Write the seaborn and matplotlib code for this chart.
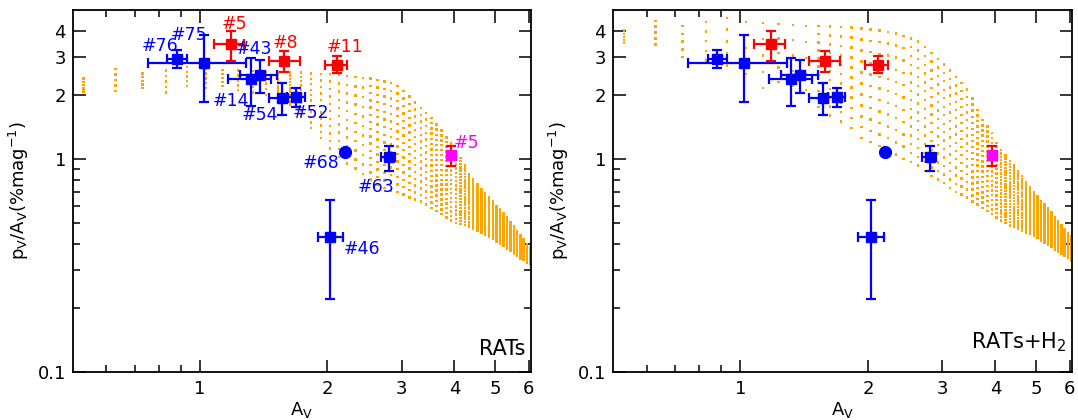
import numpy as np
import pandas as pd
import matplotlib
matplotlib.use("Agg")
import matplotlib.pyplot as plt
import seaborn as sns
from matplotlib.ticker import FixedLocator, FixedFormatter, NullFormatter

sns.set_theme(style="ticks")
plt.rcParams["font.family"] = ["DejaVu Sans"]
plt.rcParams["mathtext.fontset"] = "dejavusans"
plt.rcParams["text.color"] = "black"
plt.rcParams["axes.labelcolor"] = "black"
plt.rcParams["xtick.color"] = "black"
plt.rcParams["ytick.color"] = "black"

# ---------------------------------------------------------------------------
# Model grid: one column of predictions per A_V value, spanning lo..hi
# ---------------------------------------------------------------------------
GRID_AV = [0.53, 0.63, 0.73, 0.83, 0.93, 1.03, 1.13, 1.23, 1.33, 1.43,
           1.53, 1.63, 1.73, 1.83, 1.93, 2.03, 2.13, 2.23, 2.33, 2.43,
           2.53, 2.63, 2.73, 2.83, 2.93, 3.03, 3.13, 3.23, 3.33, 3.43,
           3.53, 3.63, 3.73, 3.83, 3.93, 4.03, 4.13, 4.23, 4.33, 4.43,
           4.53, 4.63, 4.73, 4.83, 4.93, 5.03, 5.13, 5.23, 5.33, 5.43,
           5.53, 5.63, 5.73, 5.83, 5.93, 6.03]

# RATs only
RATS_HI = [2.38, 2.65, 2.52, 2.60, 2.70, 2.65, 2.62, 2.60, 2.58, 2.56,
           2.55, 2.55, 2.54, 2.52, 2.50, 2.50, 2.47, 2.45, 2.42, 2.40,
           2.38, 2.35, 2.31, 2.27, 2.20, 2.08, 1.96, 1.84, 1.73, 1.64,
           1.56, 1.45, 1.36, 1.26, 1.18, 1.08, 1.01, 0.93, 0.85, 0.80,
           0.76, 0.72, 0.69, 0.66, 0.63, 0.60, 0.58, 0.555, 0.53, 0.505,
           0.485, 0.46, 0.44, 0.42, 0.40, 0.385]
RATS_LO = [2.07, 2.08, 2.15, 2.05, 2.20, 2.15, 2.20, 2.10, 2.05, 2.00,
           1.90, 1.80, 1.60, 1.40, 1.25, 1.12, 1.02, 0.95, 0.90, 0.85,
           0.80, 0.76, 0.73, 0.71, 0.70, 0.68, 0.66, 0.645, 0.63, 0.61,
           0.59, 0.57, 0.55, 0.53, 0.515, 0.50, 0.495, 0.49, 0.48, 0.47,
           0.46, 0.45, 0.44, 0.43, 0.42, 0.41, 0.40, 0.39, 0.38, 0.37,
           0.36, 0.35, 0.34, 0.335, 0.325, 0.32]

# RATs + H2 formation
H2_HI = [4.00, 4.45, 4.20, 4.40, 4.60, 4.40, 4.35, 4.30, 4.25, 4.20,
         4.20, 4.18, 4.16, 4.14, 4.10, 4.05, 4.00, 3.95, 3.88, 3.78,
         3.68, 3.56, 3.35, 3.15, 2.95, 2.78, 2.60, 2.42, 2.27, 2.12,
         1.92, 1.70, 1.52, 1.42, 1.32, 1.19, 1.10, 1.04, 0.98, 0.93,
         0.88, 0.83, 0.78, 0.735, 0.70, 0.665, 0.635, 0.61, 0.585, 0.56,
         0.535, 0.51, 0.49, 0.47, 0.45, 0.435]
H2_LO = [3.50, 3.45, 3.00, 2.90, 2.75, 2.50, 2.15, 2.30, 2.20, 2.10,
         1.75, 1.60, 1.50, 1.40, 1.25, 1.20, 1.15, 1.10, 1.05, 1.00,
         0.97, 0.93, 0.88, 0.83, 0.80, 0.77, 0.73, 0.70, 0.68, 0.66,
         0.63, 0.61, 0.59, 0.57, 0.55, 0.53, 0.515, 0.50, 0.488, 0.478,
         0.468, 0.458, 0.45, 0.445, 0.435, 0.425, 0.415, 0.405, 0.395, 0.385,
         0.375, 0.365, 0.357, 0.35, 0.342, 0.333]

# number of model points in each column
GRID_N = [5] * 10 + [11] * 10 + [15] * 10 + [18] * 6 + [22] * 20

# ---------------------------------------------------------------------------
# Observed stars
# ---------------------------------------------------------------------------
STAR = ["#76", "#75", "#5", "#43", "#14", "#54", "#52", "#8", "#11",
        "#68", "#63", "#5m", "#46"]
STAR_AV = [0.88, 1.02, 1.18, 1.385, 1.32, 1.565, 1.69, 1.58, 2.11,
           2.20, 2.80, 3.93, 2.03]
STAR_P = [2.95, 2.82, 3.45, 2.49, 2.37, 1.94, 1.96, 2.87, 2.77,
          1.08, 1.02, 1.04, 0.43]
STAR_AV_LO = [0.836, 0.751, 1.078, 1.245, 1.166, 1.452, 1.607, 1.452, 1.97,
              np.nan, 2.68, np.nan, 1.90]
STAR_AV_HI = [0.931, 1.285, 1.273, 1.524, 1.474, 1.612, 1.767, 1.72, 2.23,
              np.nan, 2.90, np.nan, 2.18]
STAR_P_LO = [2.67, 1.86, 2.87, 2.045, 1.77, 1.60, 1.76, 2.56, 2.52,
             np.nan, 0.882, 0.93, 0.22]
STAR_P_HI = [3.25, 3.82, 4.00, 2.92, 2.98, 2.28, 2.16, 3.21, 3.03,
             np.nan, 1.154, 1.15, 0.64]

BLUE, RED, MAGENTA, ORANGE = "#0000ff", "#ff0000", "#ff00ff", "#ffa500"
STAR_FACE = [BLUE, BLUE, RED, BLUE, BLUE, BLUE, BLUE, RED, RED,
             BLUE, BLUE, MAGENTA, BLUE]
STAR_BAR = [BLUE, BLUE, RED, BLUE, BLUE, BLUE, BLUE, RED, RED,
            BLUE, BLUE, RED, BLUE]
STAR_MARK = ["s"] * 9 + ["o"] + ["s"] * 3

# star names written on the RATs panel (text, left x, baseline y, colour)
NAME_TAGS = [("#76", 0.727, 3.20, BLUE), ("#75", 0.851, 3.60, BLUE),
             ("#5", 1.123, 4.08, RED), ("#43", 1.21, 3.12, BLUE),
             ("#8", 1.488, 3.32, RED), ("#11", 1.99, 3.17, RED),
             ("#14", 1.072, 1.78, BLUE), ("#54", 1.257, 1.525, BLUE),
             ("#52", 1.659, 1.56, BLUE), ("#68", 1.745, 0.908, BLUE),
             ("#63", 2.354, 0.70, BLUE), ("#5", 3.98, 1.125, MAGENTA),
             ("#46", 2.185, 0.358, BLUE)]


def grid_frame(hi, lo):
    rows = []
    for av, h, l, n in zip(GRID_AV, hi, lo, GRID_N):
        for p in np.geomspace(l, h, n):
            rows.append((av, p))
    return pd.DataFrame(rows, columns=["A_V", "p_over_A"])


def style_axes(ax):
    ax.set_xscale("log")
    ax.set_yscale("log")
    ax.set_xlim(0.5, 6.07)
    ax.set_ylim(0.1, 5.0)
    ax.xaxis.set_major_locator(FixedLocator([1, 2, 3, 4, 5, 6]))
    ax.xaxis.set_major_formatter(FixedFormatter(["1", "2", "3", "4", "5", "6"]))
    ax.xaxis.set_minor_locator(FixedLocator([0.6, 0.7, 0.8, 0.9]))
    ax.xaxis.set_minor_formatter(NullFormatter())
    ax.yaxis.set_major_locator(FixedLocator([0.1, 1, 2, 3, 4]))
    ax.yaxis.set_major_formatter(FixedFormatter(["0.1", "1", "2", "3", "4"]))
    ax.yaxis.set_minor_locator(FixedLocator([0.2, 0.3, 0.4, 0.5, 0.6, 0.7, 0.8, 0.9]))
    ax.yaxis.set_minor_formatter(NullFormatter())
    ax.tick_params(which="both", direction="in", top=True, right=True,
                   colors="black", labelcolor="black", width=1.1, labelsize=13)
    ax.tick_params(axis="x", which="major", length=9, pad=6)
    ax.tick_params(axis="y", which="major", length=9, pad=5)
    ax.tick_params(which="minor", length=5)
    for sp in ax.spines.values():
        sp.set_color("black")
        sp.set_linewidth(1.3)
    ax.set_xlabel(r"A$_{\rm V}$", fontsize=13, labelpad=1, color="black")
    ax.set_ylabel(r"p$_{\rm V}$/A$_{\rm V}$(%mag$^{-1}$)", fontsize=13,
                  labelpad=5, color="black")


def draw_stars(ax):
    for i in range(len(STAR)):
        x, y = STAR_AV[i], STAR_P[i]
        xerr = None
        yerr = None
        if not np.isnan(STAR_AV_LO[i]):
            xerr = [[x - STAR_AV_LO[i]], [STAR_AV_HI[i] - x]]
        if not np.isnan(STAR_P_LO[i]):
            yerr = [[y - STAR_P_LO[i]], [STAR_P_HI[i] - y]]
        if xerr is not None or yerr is not None:
            ax.errorbar([x], [y], xerr=xerr, yerr=yerr, fmt="none",
                        ecolor=STAR_BAR[i], elinewidth=1.6, capsize=3.5,
                        capthick=1.6, zorder=4)
        ms = 8.5 if STAR_MARK[i] == "o" else 7.5
        ax.plot([x], [y], linestyle="none", marker=STAR_MARK[i], ms=ms,
                color=STAR_FACE[i], mec=STAR_FACE[i], zorder=5)


fig = plt.figure(figsize=(10.78, 4.2), dpi=100)
ax1 = fig.add_axes([73 / 1078, 48 / 420, 458 / 1078, 362 / 420])
ax2 = fig.add_axes([613 / 1078, 48 / 420, 459 / 1078, 362 / 420])

panels = [(ax1, RATS_HI, RATS_LO, "RATs"), (ax2, H2_HI, H2_LO, r"RATs+H$_2$")]
for ax, hi, lo, tag in panels:
    df = grid_frame(hi, lo)
    sns.scatterplot(data=df, x="A_V", y="p_over_A", ax=ax, marker="s", s=3.0,
                    color=ORANGE, linewidth=0, edgecolor="none", zorder=2,
                    legend=False)
    draw_stars(ax)
    style_axes(ax)

ax1.text(0.987, 0.047, "RATs", transform=ax1.transAxes, ha="right",
         va="baseline", fontsize=15, color="black")
ax2.text(0.989, 0.066, r"RATs+H$_2$", transform=ax2.transAxes, ha="right",
         va="baseline", fontsize=15, color="black")

for text, x, y, c in NAME_TAGS:
    ax1.text(x, y, text, color=c, fontsize=12.5, ha="left", va="baseline",
             zorder=6)

fig.savefig("out.png", dpi=100)
